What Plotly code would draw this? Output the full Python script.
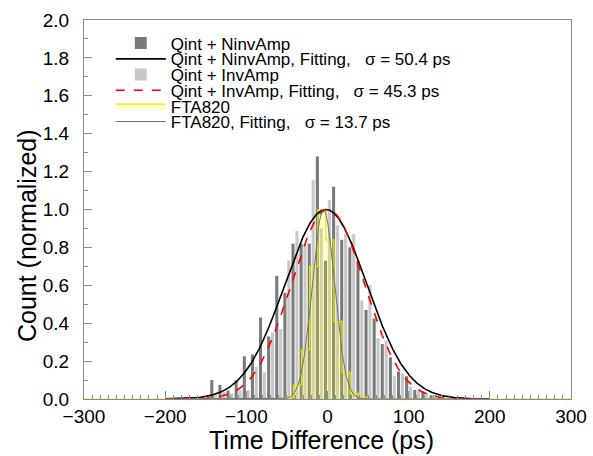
import numpy as np
import plotly.graph_objects as go

# bin centres (ps) shared by the two Qint histograms
bin_centers = [-145 + 10 * k for k in range(30)]

ninv_counts = [0.10, 0.075, 0.045, 0.10, 0.225, 0.235, 0.43, 0.33, 0.65, 0.56,
               0.82, 0.82, 0.82, 1.28, 0.73, 1.12, 0.84, 0.80, 0.73, 0.47,
               0.425, 0.29, 0.22, 0.145, 0.12, 0.047, 0.04, 0.02, 0.01, 0.0]

inv_counts = [0.0, 0.03, 0.04, 0.03, 0.047, 0.047, 0.17, 0.14, 0.35, 0.37,
              0.73, 0.886, 0.82, 1.156, 0.90, 1.05, 0.915, 0.87, 0.87, 0.52,
              0.60, 0.32, 0.31, 0.12, 0.135, 0.065, 0.05, 0.03, 0.02, 0.01]

# FTA820 histogram: bin edges and contents
fta_edges = [-52, -42, -32, -22, -12, -2, 8, 18, 28, 38, 48]
fta_counts = [0.01, 0.074, 0.26, 0.70, 1.0, 0.84, 0.41, 0.14, 0.03, 0.01]

# gaussian fit parameters: (amplitude, mean, sigma)
fit_ninv = (1.0, -2.0, 50.4)
fit_inv = (1.0, 0.5, 45.3)
fit_fta = (1.0, -5.0, 13.7)

FONT = "Liberation Sans, Arial, sans-serif"


def gaus(x, p):
    a, m, s = p
    return a * np.exp(-0.5 * ((x - m) / s) ** 2)


xf = np.linspace(-200, 200, 801)

# step outline of FTA820 over the full histogram range
fta_x = [-300] + fta_edges + [300]
fta_y = [0] + fta_counts + [0, 0]

fig = go.Figure()

fig.add_trace(go.Bar(x=bin_centers, y=inv_counts, width=3.8, offset=-4.6,
                     marker=dict(color="#c8c8c8", line=dict(width=0)),
                     name="Qint + InvAmp", legend="legend3"))
fig.add_trace(go.Bar(x=bin_centers, y=ninv_counts, width=3.8, offset=0.6,
                     marker=dict(color="#7a7a7a", line=dict(width=0)),
                     name="Qint + NinvAmp", legend="legend"))
fig.add_trace(go.Scatter(x=fta_x, y=fta_y, mode="lines", line_shape="hv",
                         fill="tozeroy", fillcolor="rgba(255,255,0,0.2)",
                         line=dict(color="#e8e800", width=1.2),
                         name="FTA820", legend="legend5"))
fig.add_trace(go.Scatter(x=xf, y=gaus(xf, fit_ninv), mode="lines",
                         line=dict(color="black", width=1.6),
                         name="Qint + NinvAmp, Fitting,   σ = 50.4 ps", legend="legend2"))
fig.add_trace(go.Scatter(x=xf, y=gaus(xf, fit_inv), mode="lines",
                         line=dict(color="#ff0000", width=1.6, dash="dash"),
                         name="Qint + InvAmp, Fitting,   σ = 45.3 ps", legend="legend4"))
fig.add_trace(go.Scatter(x=xf, y=gaus(xf, fit_fta), mode="lines",
                         line=dict(color="#707070", width=1),
                         name="FTA820, Fitting,   σ = 13.7 ps", legend="legend6"))

# one legend per row so the rows can sit as tight as in the original
row_px = [43.5, 59.3, 75.0, 90.7, 106.5, 122.0]
leg = {}
for i, ypx in enumerate(row_px):
    key = "legend" if i == 0 else f"legend{i + 1}"
    leg[key] = dict(x=0.055, y=(399 - ypx) / 379, xanchor="left", yanchor="middle",
                    bgcolor="rgba(0,0,0,0)", borderwidth=0, itemwidth=50,
                    font=dict(family=FONT, size=17, color="black"))

axis_common = dict(showline=True, linecolor="#8c8c8c", linewidth=1, mirror=True,
                   ticks="inside", tickcolor="#8c8c8c", showgrid=False, zeroline=False,
                   automargin=False,
                   tickfont=dict(family=FONT, size=19, color="black"))

title_font = dict(family=FONT, size=25, color="black")

fig.update_layout(
    width=593, height=456,
    margin=dict(l=84, r=22, t=20, b=57),
    paper_bgcolor="white", plot_bgcolor="white",
    barmode="overlay", showlegend=True,
    xaxis=dict(range=[-300, 300], tickvals=[-300, -200, -100, 0, 100, 200, 300],
               ticktext=["\u2212300", "\u2212200", "\u2212100", "0", "100", "200", "300"],
               ticklen=8, minor=dict(dtick=10, ticklen=4, ticks="inside", tickcolor="#8c8c8c"),
               **axis_common),
    yaxis=dict(range=[0, 2.0], dtick=0.2, tickformat=".1f", ticklen=8,
               minor=dict(dtick=0.1, ticklen=4, ticks="inside", tickcolor="#8c8c8c"),
               ticklabelstandoff=10,
               **axis_common),
    **leg,
)

# axis titles sit off-centre like the ROOT original, so place them as annotations
fig.add_annotation(text="Time Difference (ps)", xref="paper", yref="paper",
                   x=0.487, y=-0.109, xanchor="center", yanchor="middle",
                   showarrow=False, font=title_font)
fig.add_annotation(text="Count (normalized)", xref="paper", yref="paper",
                   x=-0.117, y=0.43, xanchor="center", yanchor="middle",
                   textangle=-90, showarrow=False, font=title_font)

# the page's default body margin would push the figure off by 8px
fig.write_html("out.html", config={"displayModeBar": False},
               post_script="document.body.style.margin='0px';")
